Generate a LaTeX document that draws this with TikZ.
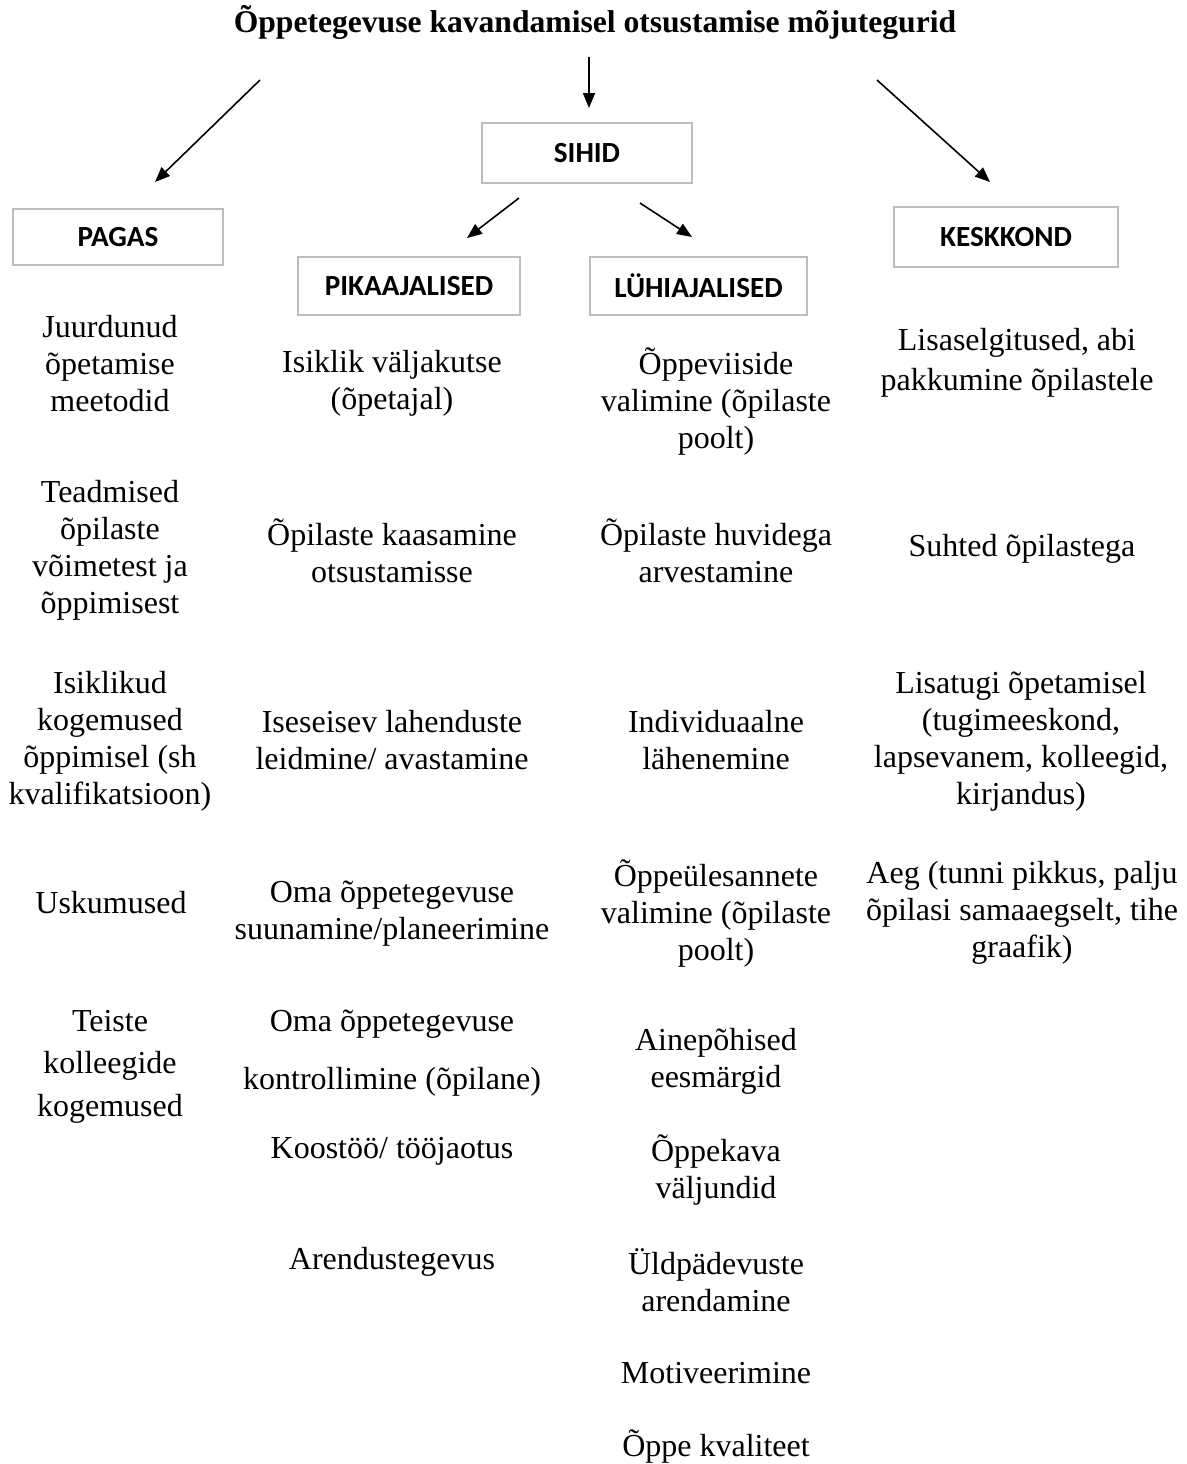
\documentclass[tikz,border=0pt]{standalone}
\usepackage{fontspec}
\setmainfont{Liberation Serif}
\newfontfamily\boxfont{Carlito}
\usetikzlibrary{arrows.meta}
\definecolor{boxgray}{HTML}{BDBDBD}
\begin{document}
\begin{tikzpicture}[x=0.5pt,y=-0.5pt,
  hbox/.style={draw=boxgray, line width=1pt, inner sep=0pt, font=\boxfont\bfseries\fontsize{14.6}{16}\selectfont},
  item/.style={align=center, inner sep=0pt, font=\fontsize{16}{18.5}\selectfont},
  itemwide/.style={align=center, inner sep=0pt, font=\fontsize{16}{21.25}\selectfont},
  arr/.style={-{Triangle[length=7.5pt,width=6pt]}, line width=0.8pt}]
\useasboundingbox (0,0) rectangle (1187,1464);

\node[font=\bfseries\fontsize{15.8}{18}\selectfont, inner sep=0pt] (title) at (595,22) {Õppetegevuse kavandamisel otsustamise mõjutegurid};

\node[hbox, minimum width=105pt, minimum height=30pt] (sihid) at (587,153) {SIHID};
\node[hbox, minimum width=105pt, minimum height=28pt] (pagas) at (118,237) {PAGAS};
\node[hbox, minimum width=111pt, minimum height=29pt] (pika) at (409,286) {PIKAAJALISED};
\node[hbox, minimum width=108.5pt, minimum height=29pt] (luhi) at (698.5,286) {LÜHIAJALISED};
\node[hbox, minimum width=112pt, minimum height=30pt] (kesk) at (1006,237) {KESKKOND};

% arrows
\coordinate (t0) at (589,57);  \coordinate (t1) at (589,108);
\coordinate (l0) at (260,80);  \coordinate (l1) at (155,182);
\coordinate (r0) at (877,80);  \coordinate (r1) at (990,182);
\coordinate (s0) at (519,198); \coordinate (s1) at (467,238);
\coordinate (u0) at (640,203); \coordinate (u1) at (692,237);
\draw[arr] (t0) -- (t1);
\draw[arr] (l0) -- (l1);
\draw[arr] (r0) -- (r1);
\draw[arr] (s0) -- (s1);
\draw[arr] (u0) -- (u1);

% column 1
\node[item] (a1) at (110,364) {Juurdunud\\õpetamise\\meetodid};
\node[item] (a2) at (110,550) {Teadmised\\õpilaste\\võimetest ja\\õppimisest};
\node[item] (a3) at (110,741) {Isiklikud\\kogemused\\õppimisel (sh\\kvalifikatsioon)};
\node[item] (a4) at (111,903) {Uskumused};
\node[itemwide] (a5) at (110,1066.5) {Teiste\\kolleegide\\kogemused};

% column 2
\node[item] (b1) at (392,383) {Isiklik väljakutse\\(õpetajal)};
\node[item] (b2) at (392,550.5) {Õpilaste kaasamine\\otsustamisse};
\node[item] (b3) at (392,740.5) {Iseseisev lahenduste\\leidmine/ avastamine};
\node[item] (b4) at (392,913.5) {Oma õppetegevuse\\suunamine/planeerimine};
\node[item] (b5) at (392,1024) {Oma õppetegevuse};
\node[item] (b6) at (392,1082) {kontrollimine (õpilane)};
\node[item] (b7) at (392,1151) {Koostöö/ tööjaotus};
\node[item] (b8) at (392,1262) {Arendustegevus};

% column 3
\node[item] (c1) at (716,402) {Õppeviiside\\valimine (õpilaste\\poolt)};
\node[item] (c2) at (716,550.5) {Õpilaste huvidega\\arvestamine};
\node[item] (c3) at (716,740.5) {Individuaalne\\lähenemine};
\node[item] (c4) at (716,913) {Õppeülesannete\\valimine (õpilaste\\poolt)};
\node[item] (c5) at (716,1061) {Ainepõhised\\eesmärgid};
\node[item] (c6) at (716,1170) {Õppekava\\väljundid};
\node[item] (c7) at (716,1280.5) {Üldpädevuste\\arendamine};
\node[item] (c8) at (716,1373) {Motiveerimine};
\node[item] (c9) at (716,1446) {Õppe kvaliteet};

% column 4
\node[align=center, inner sep=0pt, font=\fontsize{16}{20}\selectfont] (d1) at (1017,363) {Lisaselgitused, abi\\pakkumine õpilastele};
\node[item] (d2) at (1022,549) {Suhted õpilastega};
\node[item] (d3) at (1021,741) {Lisatugi õpetamisel\\(tugimeeskond,\\lapsevanem, kolleegid,\\kirjandus)};
\node[item] (d4) at (1022,913) {Aeg (tunni pikkus, palju\\õpilasi samaaegselt, tihe\\graafik)};
\end{tikzpicture}
\end{document}
